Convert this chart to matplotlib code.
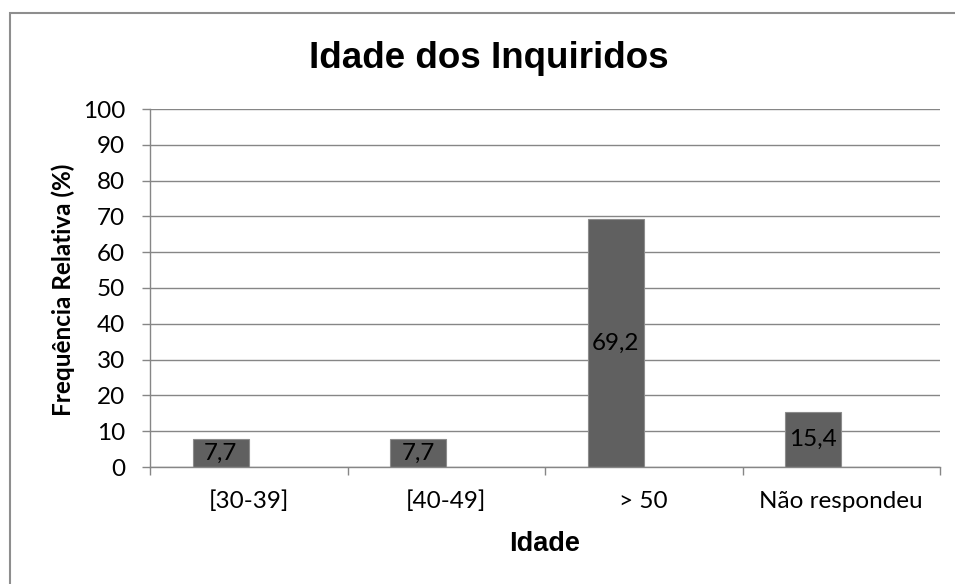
import matplotlib
matplotlib.use('Agg')
import matplotlib.pyplot as plt
from matplotlib.patches import Rectangle

categorias = ['[30-39]', '[40-49]', '> 50', 'Não respondeu']
frequencia = [7.7, 7.7, 69.2, 15.4]
rotulos = ['7,7', '7,7', '69,2', '15,4']
yticks = [0, 10, 20, 30, 40, 50, 60, 70, 80, 90, 100]

W, H = 955, 584
fig = plt.figure(figsize=(W / 100, H / 100), dpi=100)
ax = fig.add_axes([150 / W, 1 - 467 / H, 790 / W, 358 / H])

pos = list(range(len(categorias)))
# bars sit left of the category centre (Excel cluster with one series)
bars = ax.bar(pos, frequencia, width=-0.284, align='edge',
              color='#606060', edgecolor='#8c8c8c', linewidth=0.8, zorder=3)
for b, txt in zip(bars, rotulos):
    ax.text(b.get_x() + b.get_width() / 2, b.get_height() / 2, txt,
            ha='center', va='center', fontsize=17.5, family='Lato', zorder=4)

ax.set_xlim(-0.5, len(categorias) - 0.5)
ax.set_ylim(0, 100)
ax.set_yticks(yticks)
ax.set_yticklabels([str(v) for v in yticks], family='Lato', fontsize=17.5)
ax.set_xticks(pos)
ax.set_xticklabels(categorias, family='Lato', fontsize=17.5)
ax.set_xticks([p - 0.5 for p in pos] + [len(categorias) - 0.5], minor=True)
ax.tick_params(axis='x', which='major', length=0, pad=17)
ax.tick_params(axis='x', which='minor', length=6, color='#868686', width=1)
ax.tick_params(axis='y', length=6, color='#868686', width=1, pad=12)

ax.grid(axis='y', color='#868686', linewidth=1, zorder=0)
for s in ['top', 'right']:
    ax.spines[s].set_visible(False)
for s in ['left', 'bottom']:
    ax.spines[s].set_color('#868686')
    ax.spines[s].set_linewidth(1)
    ax.spines[s].set_zorder(5)

fig.text(489 / W, 1 - 68 / H, 'Idade dos Inquiridos', ha='center', va='baseline',
         fontsize=26.5, fontweight='bold', family='Liberation Sans')
fig.text(545 / W, 1 - 551 / H, 'Idade', ha='center', va='baseline',
         fontsize=19.5, fontweight='bold', family='Liberation Sans')
fig.text(63 / W, 1 - 290 / H, 'Frequência Relativa (%)', ha='center', va='center',
         rotation=90, fontsize=17.5, fontweight='bold', family='Lato')

# chart area border (cropped on the right and bottom)
fig.add_artist(Rectangle((10 / W, -0.1), 1.2, 1.1 - 13 / H, transform=fig.transFigure,
                         fill=False, edgecolor='#8e8e8e', linewidth=1.5))

fig.savefig('out.png', dpi=100)
